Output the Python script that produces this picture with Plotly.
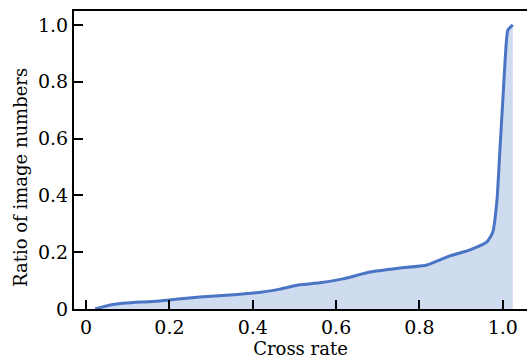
import plotly.graph_objects as go

cross_rate = [0.022, 0.058, 0.094, 0.137, 0.177, 0.221, 0.273, 0.345, 0.424, 0.465,
              0.513, 0.561, 0.616, 0.681, 0.753, 0.818, 0.873, 0.921, 0.962, 0.976,
              0.986, 0.993, 1.000, 1.007, 1.012, 1.024]
ratio = [0.0, 0.014, 0.021, 0.025, 0.028, 0.035, 0.042, 0.049, 0.060, 0.070,
         0.085, 0.092, 0.106, 0.130, 0.144, 0.155, 0.187, 0.208, 0.236, 0.271,
         0.384, 0.560, 0.736, 0.912, 0.982, 1.0]

tick_vals = [0, 0.2, 0.4, 0.6, 0.8, 1.0]
tick_text = ["0", "0.2", "0.4", "0.6", "0.8", "1.0"]

tick_font = dict(family="DejaVu Serif", size=19, color="black")
title_font = dict(family="DejaVu Serif", size=18, color="black")

fig = go.Figure()
fig.add_trace(go.Scatter(
    x=cross_rate, y=ratio, mode="lines", fill="tozeroy",
    line=dict(color="#4a74c4", width=3, shape="spline", smoothing=0.5),
    fillcolor="#cfdbee", showlegend=False, hoverinfo="skip",
))

fig.update_layout(
    width=527, height=361,
    margin=dict(l=74, r=0, t=11, b=52),
    plot_bgcolor="white", paper_bgcolor="white",
    font=tick_font,
    xaxis=dict(
        range=[-0.029, 1.058], tickvals=tick_vals, ticktext=tick_text,
        ticks="inside", ticklen=9, tickwidth=2, tickcolor="black",
        tickfont=tick_font, automargin=False,
        showline=True, linecolor="black", linewidth=2, mirror=True,
        showgrid=False, zeroline=False,
        title=dict(text="Cross rate", standoff=4, font=title_font),
    ),
    yaxis=dict(
        range=[0, 1.049], tickvals=tick_vals, ticktext=tick_text,
        ticks="inside", ticklen=9, tickwidth=2, tickcolor="black",
        tickfont=tick_font, automargin=False,
        showline=True, linecolor="black", linewidth=2, mirror=False,
        showgrid=False, zeroline=False,
    ),
    annotations=[dict(
        text="Ratio of image numbers", textangle=-90, showarrow=False,
        xref="paper", yref="paper", x=(20 - 74) / 453, y=(309 - 178) / 298,
        xanchor="center", yanchor="middle", font=title_font,
    )],
)

fig.write_html("out.html", config={"displayModeBar": False},
               post_script="document.body.style.margin='0';")
